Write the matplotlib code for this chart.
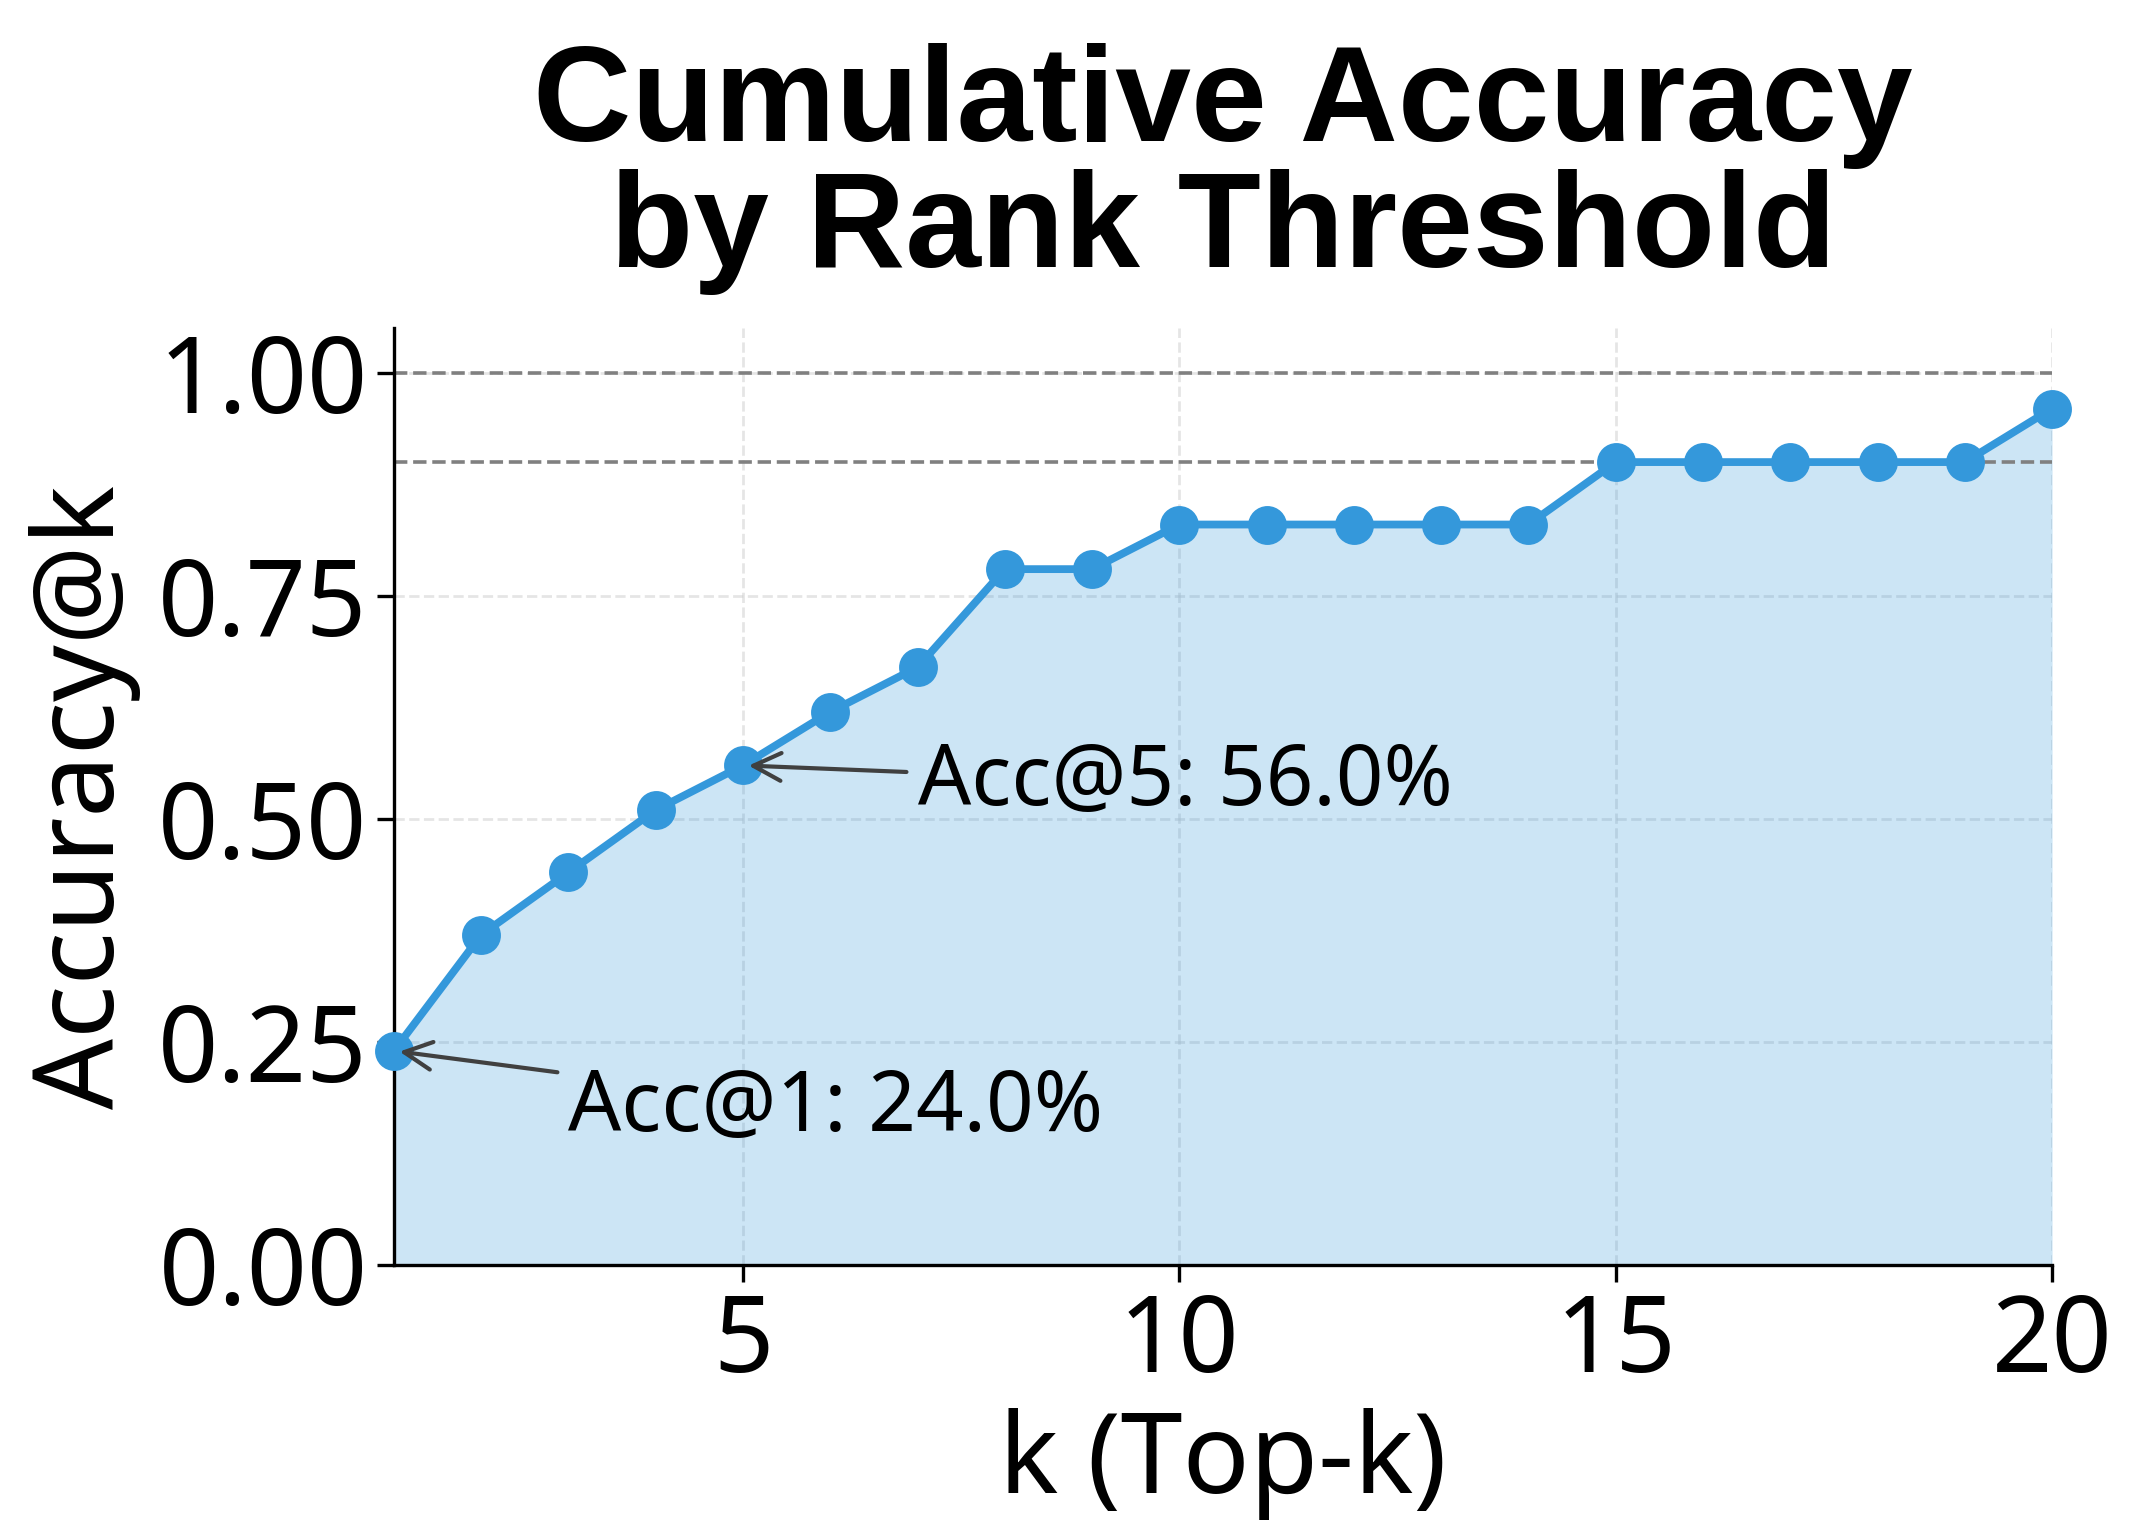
import matplotlib
matplotlib.use('Agg')
import matplotlib.pyplot as plt

# Data
k_values = list(range(1, 21))
accuracy = [0.24, 0.37, 0.44, 0.51, 0.56, 0.62, 0.67, 0.78, 0.78, 0.83,
            0.83, 0.83, 0.83, 0.83, 0.90, 0.90, 0.90, 0.90, 0.90, 0.96]
ref_lines = [1.0, 0.9]
x_ticks = [5, 10, 15, 20]
y_ticks = [0.0, 0.25, 0.5, 0.75, 1.0]
notes = [(1, 'Acc@1: 24.0%', 3.0, 0.175), (5, 'Acc@5: 56.0%', 7.0, 0.54)]

plt.rcParams['font.family'] = ['Noto Sans', 'Noto Sans CJK JP', 'DejaVu Sans']

fig = plt.figure(figsize=(10.67, 7.67), dpi=200)
ax = fig.add_axes([0.1846, 0.1754, 0.777, 0.6106])

color = '#3498db'
ax.fill_between(k_values, accuracy, 0, color=color, alpha=0.25, linewidth=0)
ax.plot(k_values, accuracy, color=color, linewidth=2.8, marker='o',
        markersize=13, zorder=3, clip_on=False)

for y in ref_lines:
    ax.axhline(y, color='gray', linestyle='--', linewidth=1.3, zorder=2)

for k, label, tx, ty in notes:
    ax.annotate(label, xy=(k, accuracy[k - 1]), xytext=(tx, ty),
                ha='left', va='center', fontsize=30,
                arrowprops=dict(arrowstyle='->', color='#404040', lw=1.5,
                                mutation_scale=25))

ax.set_xlim(1, 20)
ax.set_ylim(0, 1.05)
ax.set_xticks(x_ticks)
ax.set_yticks(y_ticks)
ax.set_yticklabels([f'{v:.2f}' for v in y_ticks])
ax.tick_params(labelsize=38, length=6, width=1.2)
ax.grid(True, linestyle='--', color='#cccccc', alpha=0.5, linewidth=1)
ax.set_axisbelow(True)

for side in ['top', 'right']:
    ax.spines[side].set_visible(False)
for side in ['left', 'bottom']:
    ax.spines[side].set_linewidth(1.2)

ax.set_xlabel('k (Top-k)', fontsize=40, labelpad=4)
ax.set_ylabel('Accuracy@k', fontsize=40, labelpad=6)
ax.set_title('Cumulative Accuracy\nby Rank Threshold', fontsize=49,
             fontweight='bold', family=['Liberation Sans', 'DejaVu Sans'],
             pad=22, linespacing=1.0)

plt.savefig('out.png', dpi=200)
